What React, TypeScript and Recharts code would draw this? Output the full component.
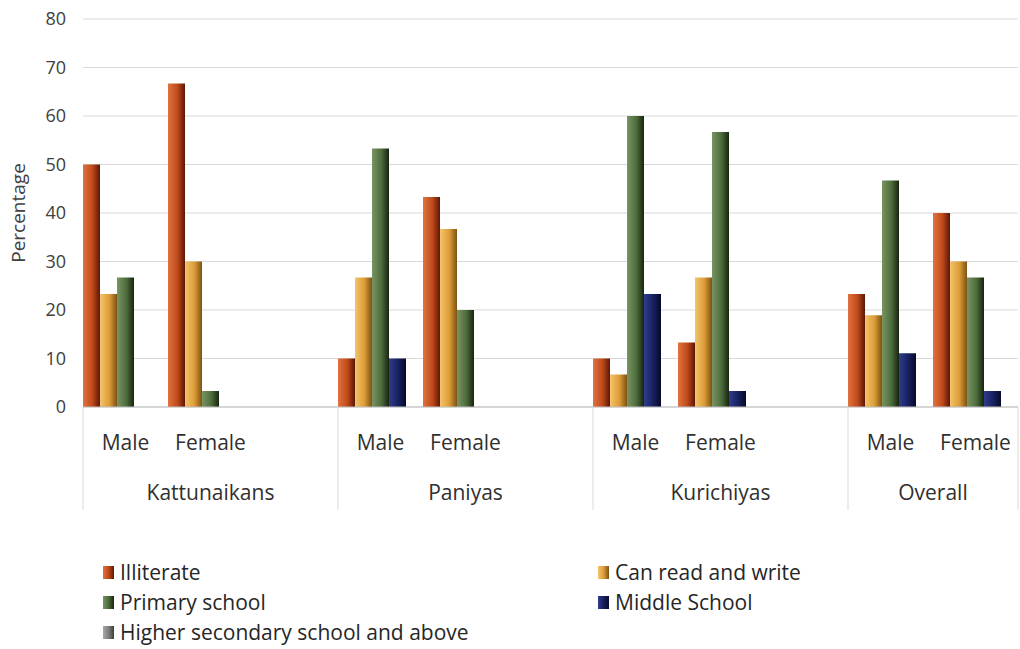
import { BarChart, Bar, XAxis, YAxis, CartesianGrid, Legend } from "recharts"

// Literacy levels by tribe and sex (%), blank slots separate the tribe groups
const categories = ["Male", "Female", "", "Male", "Female", "", "Male", "Female", "", "Male", "Female"]
const groups = ["Kattunaikans", "Paniyas", "Kurichiyas", "Overall"]

const illiterate = [50, 66.7, null, 10, 43.3, null, 10, 13.3, null, 23.3, 40]
const canReadWrite = [23.3, 30, null, 26.7, 36.7, null, 6.7, 26.7, null, 18.9, 30]
const primarySchool = [26.7, 3.3, null, 53.3, 20, null, 60, 56.7, null, 46.7, 26.7]
const middleSchool = [0, 0, null, 10, 0, null, 23.3, 3.3, null, 11.1, 3.3]
const higherSecondary = [0, 0, null, 0, 0, null, 0, 0, null, 0, 0]

const yTicks = [0, 10, 20, 30, 40, 50, 60, 70, 80]

const series = [
  { key: "illiterate", name: "Illiterate", stops: ["#e0733f", "#c04a1a", "#5c1606"] },
  { key: "canReadWrite", name: "Can read and write", stops: ["#f5c46a", "#dc9c38", "#7c5212"] },
  { key: "primarySchool", name: "Primary school", stops: ["#7a9463", "#4d6c3c", "#18240f"] },
  { key: "middleSchool", name: "Middle School", stops: ["#313c8c", "#17205e", "#050a28"] },
  { key: "higherSecondary", name: "Higher secondary school and above", stops: ["#a8a8a8", "#808080", "#3c3c3c"] },
]

const data = categories.map((sex, i) => ({
  sex,
  illiterate: illiterate[i],
  canReadWrite: canReadWrite[i],
  primarySchool: primarySchool[i],
  middleSchool: middleSchool[i],
  higherSecondary: higherSecondary[i],
}))

const W = 1020
const H = 649
const MARGIN = { top: 19, right: 2, left: 0, bottom: 0 }
const Y_WIDTH = 83
const X_HEIGHT = 242
const FONT = "'Open Sans', sans-serif"
const band = (W - MARGIN.left - MARGIN.right - Y_WIDTH) / categories.length

// two-level category axis: sex on the first row, tribe name below with separators
const GroupedTick = (props: any) => {
  const { x, y, payload, index } = props
  const i = index ?? payload.index
  const gi = Math.floor(i / 3)
  const isStart = i % 3 === 0
  const span = Math.min(3, categories.length - gi * 3)
  const left = x - band / 2
  const isLast = i === categories.length - 1
  return (
    <g>
      <text x={x} y={y + 43} textAnchor="middle" fill="#303030" fontSize={21} fontFamily={FONT}>
        {payload.value}
      </text>
      {isStart && (
        <>
          <line x1={left} y1={y} x2={left} y2={y + 103} stroke="#d9d9d9" />
          <text x={left + (span * band) / 2} y={y + 93} textAnchor="middle" fill="#303030" fontSize={21} fontFamily={FONT}>
            {groups[gi]}
          </text>
        </>
      )}
      {isLast && <line x1={x + band / 2} y1={y} x2={x + band / 2} y2={y + 103} stroke="#d9d9d9" />}
    </g>
  )
}

const LegendContent = () => (
  <div
    style={{
      display: "grid",
      gridTemplateColumns: "495px 300px",
      rowGap: 6,
      paddingLeft: 103,
      fontFamily: FONT,
      fontSize: 21,
      color: "#262626",
    }}
  >
    {series.map((s) => (
      <div key={s.key} style={{ display: "flex", alignItems: "center", height: 24 }}>
        <span
          style={{
            display: "inline-block",
            width: 11,
            height: 13,
            marginRight: 6,
            background: `linear-gradient(to right, ${s.stops[0]}, ${s.stops[1]}, ${s.stops[2]})`,
          }}
        />
        {s.name}
      </div>
    ))}
  </div>
)

export default function App() {
  return (
    <div style={{ position: "absolute", left: 0, top: 0, width: W, height: H, background: "#fff" }}>
      <BarChart width={W} height={H} data={data} margin={MARGIN} barCategoryGap={0} barGap={0}>
        <defs>
          {series.map((s) => (
            <linearGradient key={s.key} id={`grad-${s.key}`} x1="0" y1="0" x2="1" y2="0">
              <stop offset="0%" stopColor={s.stops[0]} />
              <stop offset="55%" stopColor={s.stops[1]} />
              <stop offset="100%" stopColor={s.stops[2]} />
            </linearGradient>
          ))}
        </defs>
        <CartesianGrid vertical={false} stroke="#d9d9d9" />
        <XAxis
          dataKey="sex"
          height={X_HEIGHT}
          interval={0}
          tickLine={false}
          tickSize={0}
          tickMargin={0}
          axisLine={{ stroke: "#bfbfbf" }}
          tick={<GroupedTick />}
        />
        <YAxis
          width={Y_WIDTH}
          domain={[0, 80]}
          ticks={yTicks}
          interval={0}
          axisLine={false}
          tickLine={false}
          tickSize={0}
          tickMargin={17}
          tick={{ fill: "#404040", fontSize: 18, fontFamily: FONT }}
          label={{
            value: "Percentage",
            angle: -90,
            position: "center",
            dx: -23,
            fill: "#404040",
            fontSize: 19,
            fontFamily: FONT,
          }}
        />
        {series.map((s) => (
          <Bar key={s.key} dataKey={s.key} name={s.name} fill={`url(#grad-${s.key})`} isAnimationActive={false} />
        ))}
        <Legend
          layout="horizontal"
          verticalAlign="middle"
          align="center"
          content={<LegendContent />}
          wrapperStyle={{ top: 560, left: 0, width: W }}
        />
      </BarChart>
    </div>
  )
}
